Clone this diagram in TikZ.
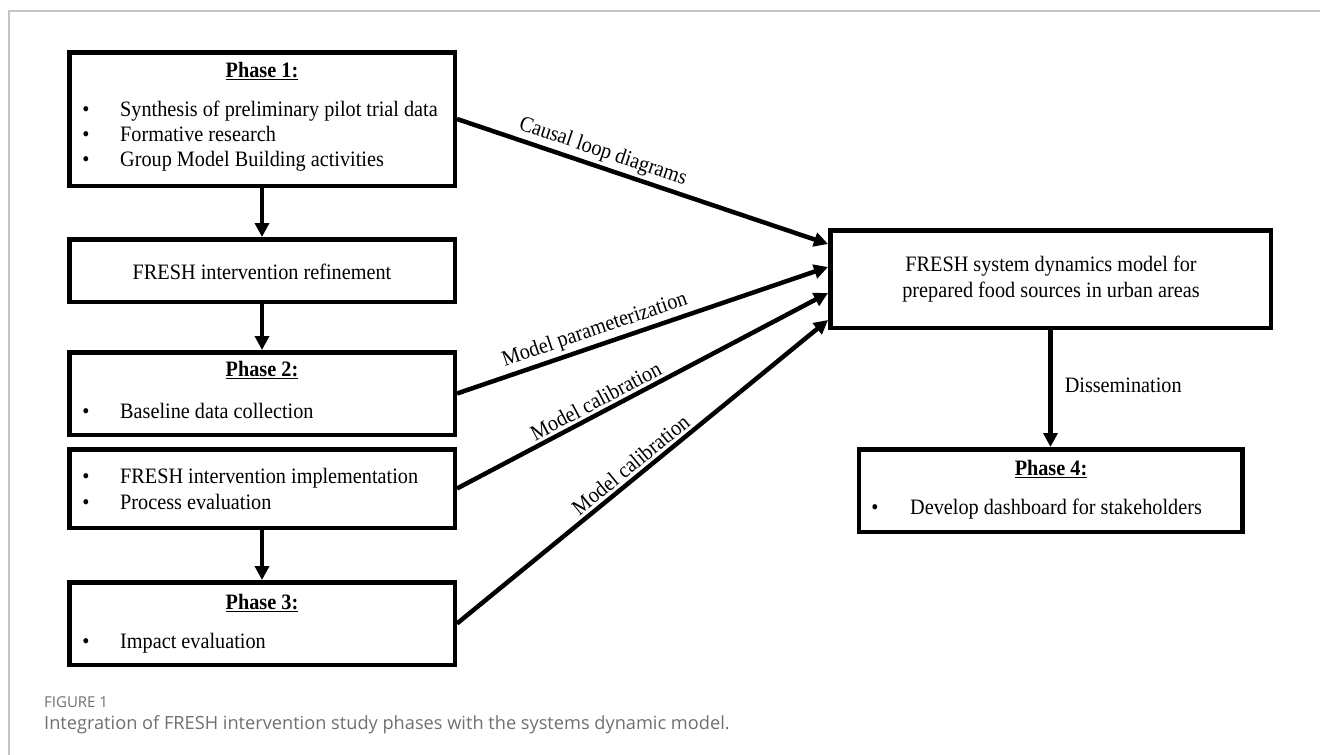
\documentclass[tikz,border=0pt]{standalone}
\usepackage{fontspec}
\setmainfont{Liberation Serif}[FakeStretch=0.92]
\newfontfamily\capfont{Open Sans}
\usetikzlibrary{arrows.meta}
\definecolor{framegray}{HTML}{C4C4C4}
\definecolor{capgray}{HTML}{707070}
\tikzset{
  box/.style={draw=black, line width=4.5pt, inner sep=0pt, rectangle},
  txt/.style={inner sep=0pt, anchor=base west},
  ttl/.style={inner sep=0pt, anchor=base},
  bul/.style={inner sep=0pt, anchor=base},
  arr/.style={line width=4.5pt, -{Triangle[length=14pt,width=14pt]}},
  lbl/.style={sloped, above, inner sep=3pt}
}
\begin{document}
\begin{tikzpicture}[x=1pt,y=-1pt,font=\fontsize{22}{25}\selectfont]
\useasboundingbox (0,0) rectangle (1320,755);
\fill[white] (0,0) rectangle (1320,755);
\draw[framegray, line width=1.5pt] (9,755) -- (9,11) -- (1320,11);

% boxes
\node[box, minimum width=385.5pt, minimum height=133.5pt] (p1) at (262,119) {};
\node[box, minimum width=385.5pt, minimum height=62.5pt] (ref) at (262,270.5) {};
\node[box, minimum width=385.5pt, minimum height=82.5pt] (p2) at (262,393.5) {};
\node[box, minimum width=385.5pt, minimum height=78.5pt] (impl) at (262,488.5) {};
\node[box, minimum width=385.5pt, minimum height=82.5pt] (p3) at (262,623.5) {};
\node[box, minimum width=440.5pt, minimum height=97.5pt] (main) at (1050.5,279) {};
\node[box, minimum width=383.5pt, minimum height=82.5pt] (p4) at (1050.5,490.5) {};

% texts
\node[ttl] (p1t) at (262,77) {\underline{\textbf{Phase 1:}}};
\node[bul] (p1b1) at (86,116) {•};
\node[txt] (p1l1) at (120,116) {Synthesis of preliminary pilot trial data};
\node[bul] (p1b2) at (86,141) {•};
\node[txt] (p1l2) at (120,141) {Formative research};
\node[bul] (p1b3) at (86,166) {•};
\node[txt] (p1l3) at (120,166) {Group Model Building activities};

\node[ttl] (reft) at (262,279) {FRESH intervention refinement};

\node[ttl] (p2t) at (262,376) {\underline{\textbf{Phase 2:}}};
\node[bul] (p2b1) at (86,418) {•};
\node[txt] (p2l1) at (120,418) {Baseline data collection};

\node[bul] (imb1) at (86,483) {•};
\node[txt] (iml1) at (120,483) {FRESH intervention implementation};
\node[bul] (imb2) at (86,509) {•};
\node[txt] (iml2) at (120,509) {Process evaluation};

\node[ttl] (p3t) at (262,609) {\underline{\textbf{Phase 3:}}};
\node[bul] (p3b1) at (86,648) {•};
\node[txt] (p3l1) at (120,648) {Impact evaluation};

\node[ttl] (mainl1) at (1051,271) {FRESH system dynamics model for};
\node[ttl] (mainl2) at (1051,297) {prepared food sources in urban areas};

\node[ttl] (p4t) at (1051,475) {\underline{\textbf{Phase 4:}}};
\node[bul] (p4b1) at (875,514) {•};
\node[txt] (p4l1) at (910,514) {Develop dashboard for stakeholders};

% connectors
\draw[arr] (p1.south) -- (ref.north);
\draw[arr] (ref.south) -- (p2.north);
\draw[arr] (impl.south) -- (p3.north);
\draw[arr] (main.south) -- node[pos=0.47, anchor=west, inner sep=0pt, xshift=12pt] (dis) {Dissemination} (p4.north);
\draw[arr] (p1.east) -- node[lbl, pos=0.38] (cld) {Causal loop diagrams} ([yshift=35pt]main.west);
\draw[arr] (p2.east) -- node[lbl, pos=0.385] (mpar) {Model parameterization} ([yshift=12pt]main.west);
\draw[arr] (impl.east) -- node[lbl, pos=0.39] (mcal1) {Model calibration} ([yshift=-14pt]main.west);
\draw[arr] (p3.east) -- node[lbl, pos=0.49] (mcal2) {Model calibration} ([yshift=-41pt]main.west);

% caption
\node[anchor=base west, inner sep=0pt, text=capgray, font=\capfont\fontsize{15}{17}\selectfont] (figlab) at (44,707) {FIGURE 1};
\node[anchor=base west, inner sep=0pt, text=capgray, font=\capfont\fontsize{18.2}{20}\selectfont] (figcap) at (44,729) {Integration of FRESH intervention study phases with the systems dynamic model.};
\end{tikzpicture}
\end{document}
